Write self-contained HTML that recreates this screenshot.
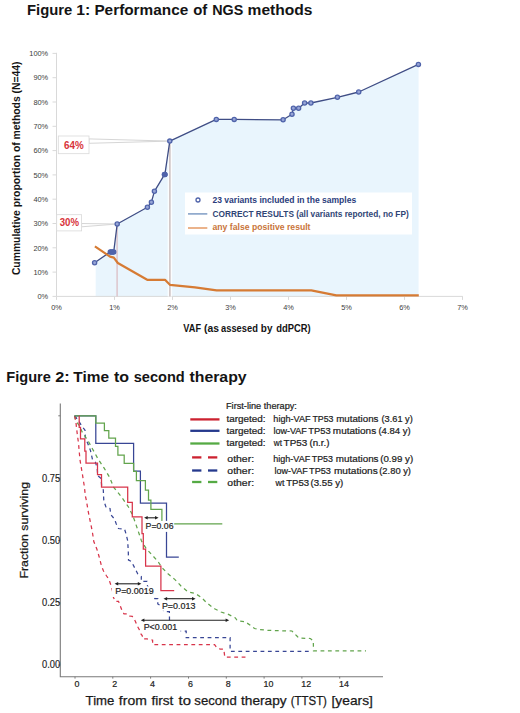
<!DOCTYPE html>
<html><head><meta charset="utf-8"><title>Figures</title>
<style>
html,body{margin:0;padding:0;background:#fff;}
body{width:520px;height:713px;overflow:hidden;font-family:"Liberation Sans", sans-serif;}
svg{display:block;}
svg text{font-family:"Liberation Sans", sans-serif;}
</style></head>
<body>
<svg width="520" height="713" viewBox="0 0 520 713">
<rect width="520" height="713" fill="#fff"/>
<text x="27.04" y="15" font-size="14.9" fill="#141414" font-weight="bold" textLength="45.29" lengthAdjust="spacingAndGlyphs">Figure</text>
<text x="76.35" y="15" font-size="14.9" fill="#141414" font-weight="bold" textLength="14.01" lengthAdjust="spacingAndGlyphs">1:</text>
<text x="94.4" y="15" font-size="14.9" fill="#141414" font-weight="bold" textLength="93.82" lengthAdjust="spacingAndGlyphs">Performance</text>
<text x="193.2" y="15" font-size="14.9" fill="#141414" font-weight="bold" textLength="14.08" lengthAdjust="spacingAndGlyphs">of</text>
<text x="212.17" y="15" font-size="14.9" fill="#141414" font-weight="bold" textLength="31.06" lengthAdjust="spacingAndGlyphs">NGS</text>
<text x="247.59" y="15" font-size="14.9" fill="#141414" font-weight="bold" textLength="64.97" lengthAdjust="spacingAndGlyphs">methods</text>
<polygon points="95.7,296.4 95.7,262.0 110.3,251.9 112.0,251.9 113.7,251.9 117.2,224.0 147.4,207.3 151.4,202.2 154.4,191.3 164.5,174.6 164.9,174.4 169.8,141.1 216.3,119.4 234.2,119.4 283.1,119.8 292.0,114.2 293.4,108.2 298.6,108.3 304.6,103.0 310.9,103.0 337.4,97.3 358.7,92.0 418.4,64.4 418.6,64.4 418.6,296.4" fill="#e9f5fd"/>
<line x1="56.5" y1="52.8" x2="56.5" y2="296.4" stroke="#d9d9d9" stroke-width="1"/>
<line x1="56.5" y1="296.4" x2="462.8" y2="296.4" stroke="#d9d9d9" stroke-width="1"/>
<line x1="52.5" y1="296.4" x2="56.5" y2="296.4" stroke="#d9d9d9" stroke-width="1"/>
<text x="48.2" y="299.1" font-size="7.4" fill="#3c3c3c" text-anchor="end">0%</text>
<line x1="52.5" y1="272.1" x2="56.5" y2="272.1" stroke="#d9d9d9" stroke-width="1"/>
<text x="48.2" y="274.8" font-size="7.4" fill="#3c3c3c" text-anchor="end">10%</text>
<line x1="52.5" y1="247.8" x2="56.5" y2="247.8" stroke="#d9d9d9" stroke-width="1"/>
<text x="48.2" y="250.5" font-size="7.4" fill="#3c3c3c" text-anchor="end">20%</text>
<line x1="52.5" y1="223.5" x2="56.5" y2="223.5" stroke="#d9d9d9" stroke-width="1"/>
<text x="48.2" y="226.2" font-size="7.4" fill="#3c3c3c" text-anchor="end">30%</text>
<line x1="52.5" y1="199.2" x2="56.5" y2="199.2" stroke="#d9d9d9" stroke-width="1"/>
<text x="48.2" y="201.9" font-size="7.4" fill="#3c3c3c" text-anchor="end">40%</text>
<line x1="52.5" y1="174.9" x2="56.5" y2="174.9" stroke="#d9d9d9" stroke-width="1"/>
<text x="48.2" y="177.6" font-size="7.4" fill="#3c3c3c" text-anchor="end">50%</text>
<line x1="52.5" y1="150.6" x2="56.5" y2="150.6" stroke="#d9d9d9" stroke-width="1"/>
<text x="48.2" y="153.3" font-size="7.4" fill="#3c3c3c" text-anchor="end">60%</text>
<line x1="52.5" y1="126.3" x2="56.5" y2="126.3" stroke="#d9d9d9" stroke-width="1"/>
<text x="48.2" y="129.0" font-size="7.4" fill="#3c3c3c" text-anchor="end">70%</text>
<line x1="52.5" y1="102.0" x2="56.5" y2="102.0" stroke="#d9d9d9" stroke-width="1"/>
<text x="48.2" y="104.7" font-size="7.4" fill="#3c3c3c" text-anchor="end">80%</text>
<line x1="52.5" y1="77.7" x2="56.5" y2="77.7" stroke="#d9d9d9" stroke-width="1"/>
<text x="48.2" y="80.4" font-size="7.4" fill="#3c3c3c" text-anchor="end">90%</text>
<line x1="52.5" y1="53.4" x2="56.5" y2="53.4" stroke="#d9d9d9" stroke-width="1"/>
<text x="48.2" y="56.1" font-size="7.4" fill="#3c3c3c" text-anchor="end">100%</text>
<line x1="56.5" y1="296.4" x2="56.5" y2="299.9" stroke="#d9d9d9" stroke-width="1"/>
<text x="56.5" y="309.9" font-size="7.4" fill="#3c3c3c" text-anchor="middle">0%</text>
<line x1="114.5" y1="296.4" x2="114.5" y2="299.9" stroke="#d9d9d9" stroke-width="1"/>
<text x="114.5" y="309.9" font-size="7.4" fill="#3c3c3c" text-anchor="middle">1%</text>
<line x1="172.5" y1="296.4" x2="172.5" y2="299.9" stroke="#d9d9d9" stroke-width="1"/>
<text x="172.5" y="309.9" font-size="7.4" fill="#3c3c3c" text-anchor="middle">2%</text>
<line x1="230.5" y1="296.4" x2="230.5" y2="299.9" stroke="#d9d9d9" stroke-width="1"/>
<text x="230.5" y="309.9" font-size="7.4" fill="#3c3c3c" text-anchor="middle">3%</text>
<line x1="288.5" y1="296.4" x2="288.5" y2="299.9" stroke="#d9d9d9" stroke-width="1"/>
<text x="288.5" y="309.9" font-size="7.4" fill="#3c3c3c" text-anchor="middle">4%</text>
<line x1="346.5" y1="296.4" x2="346.5" y2="299.9" stroke="#d9d9d9" stroke-width="1"/>
<text x="346.5" y="309.9" font-size="7.4" fill="#3c3c3c" text-anchor="middle">5%</text>
<line x1="404.5" y1="296.4" x2="404.5" y2="299.9" stroke="#d9d9d9" stroke-width="1"/>
<text x="404.5" y="309.9" font-size="7.4" fill="#3c3c3c" text-anchor="middle">6%</text>
<line x1="462.5" y1="296.4" x2="462.5" y2="299.9" stroke="#d9d9d9" stroke-width="1"/>
<text x="462.5" y="309.9" font-size="7.4" fill="#3c3c3c" text-anchor="middle">7%</text>
<line x1="117.1" y1="224" x2="117.1" y2="296.4" stroke="#dcc2c8" stroke-width="1.4"/>
<line x1="169.9" y1="141" x2="169.9" y2="296.4" stroke="#fbfdff" stroke-width="4.4"/>
<line x1="169.9" y1="141" x2="169.9" y2="296.4" stroke="#c8bbbb" stroke-width="1.4"/>
<polygon points="81.6,223.5 117.2,224.0 81.6,226.8" fill="none" stroke="#d6d6d6" stroke-width="1"/>
<polygon points="89,138.9 169.7,141.1 89,143.3" fill="none" stroke="#d6d6d6" stroke-width="1"/>
<polyline points="94.6,262.7 110.3,251.9 112.0,251.9 113.7,251.9 117.2,224.0 147.4,207.3 151.4,202.2 154.4,191.3 164.5,174.6 164.9,174.4 169.8,141.1 216.3,119.4 234.2,119.4 283.1,119.8 292.0,114.2 293.4,108.2 298.6,108.3 304.6,103.0 310.9,103.0 337.4,97.3 358.7,92.0 418.4,64.4" fill="none" stroke="#3f4d85" stroke-width="1.3" stroke-linejoin="round"/>
<polyline points="94.9,246.3 107.1,254.6 110.0,256.6 113.8,257.6 117.8,263.0 147.2,279.8 165.0,279.8 169.9,284.8 195.0,287.3 216.6,290.4 311.3,290.4 336.3,295.3 418.8,295.3" fill="none" stroke="#d67b34" stroke-width="2.2" stroke-linejoin="round"/>
<circle cx="94.6" cy="262.7" r="2.1" fill="#97a5d6" stroke="#4f63aa" stroke-width="1.3"/>
<circle cx="110.3" cy="251.9" r="2.1" fill="#97a5d6" stroke="#4f63aa" stroke-width="1.3"/>
<circle cx="112.0" cy="251.9" r="2.1" fill="#97a5d6" stroke="#4f63aa" stroke-width="1.3"/>
<circle cx="113.7" cy="251.9" r="2.1" fill="#97a5d6" stroke="#4f63aa" stroke-width="1.3"/>
<circle cx="117.2" cy="224.0" r="2.1" fill="#97a5d6" stroke="#4f63aa" stroke-width="1.3"/>
<circle cx="147.4" cy="207.3" r="2.1" fill="#97a5d6" stroke="#4f63aa" stroke-width="1.3"/>
<circle cx="151.4" cy="202.2" r="2.1" fill="#97a5d6" stroke="#4f63aa" stroke-width="1.3"/>
<circle cx="154.4" cy="191.3" r="2.1" fill="#97a5d6" stroke="#4f63aa" stroke-width="1.3"/>
<circle cx="164.5" cy="174.6" r="2.1" fill="#97a5d6" stroke="#4f63aa" stroke-width="1.3"/>
<circle cx="164.9" cy="174.4" r="2.1" fill="#97a5d6" stroke="#4f63aa" stroke-width="1.3"/>
<circle cx="169.8" cy="141.1" r="2.1" fill="#97a5d6" stroke="#4f63aa" stroke-width="1.3"/>
<circle cx="216.3" cy="119.4" r="2.1" fill="#97a5d6" stroke="#4f63aa" stroke-width="1.3"/>
<circle cx="234.2" cy="119.4" r="2.1" fill="#97a5d6" stroke="#4f63aa" stroke-width="1.3"/>
<circle cx="283.1" cy="119.8" r="2.1" fill="#97a5d6" stroke="#4f63aa" stroke-width="1.3"/>
<circle cx="292.0" cy="114.2" r="2.1" fill="#97a5d6" stroke="#4f63aa" stroke-width="1.3"/>
<circle cx="293.4" cy="108.2" r="2.1" fill="#97a5d6" stroke="#4f63aa" stroke-width="1.3"/>
<circle cx="298.6" cy="108.3" r="2.1" fill="#97a5d6" stroke="#4f63aa" stroke-width="1.3"/>
<circle cx="304.6" cy="103.0" r="2.1" fill="#97a5d6" stroke="#4f63aa" stroke-width="1.3"/>
<circle cx="310.9" cy="103.0" r="2.1" fill="#97a5d6" stroke="#4f63aa" stroke-width="1.3"/>
<circle cx="337.4" cy="97.3" r="2.1" fill="#97a5d6" stroke="#4f63aa" stroke-width="1.3"/>
<circle cx="358.7" cy="92.0" r="2.1" fill="#97a5d6" stroke="#4f63aa" stroke-width="1.3"/>
<circle cx="418.4" cy="64.4" r="2.1" fill="#97a5d6" stroke="#4f63aa" stroke-width="1.3"/>
<rect x="108.1" y="249.5" width="7.8" height="4.9" rx="2.4" fill="#4f63aa"/>
<ellipse cx="164.7" cy="174.5" rx="2.9" ry="2.6" fill="#4f63aa"/>
<rect x="58.3" y="136" width="30.7" height="17.7" fill="#fff" stroke="#d9d9d9" stroke-width="0.8"/>
<text x="64.0" y="148.9" font-size="10.4" fill="#d8333a" font-weight="bold" textLength="19.7" lengthAdjust="spacingAndGlyphs">64%</text>
<rect x="56.7" y="214.7" width="24.9" height="16.2" fill="#fff" stroke="#d9d9d9" stroke-width="0.8"/>
<text x="59.7" y="226.3" font-size="10.2" fill="#d8333a" font-weight="bold" textLength="19.3" lengthAdjust="spacingAndGlyphs">30%</text>
<rect x="185" y="192.5" width="227" height="42" fill="#ffffff"/>
<circle cx="198" cy="200" r="2.0" fill="#fff" stroke="#4f63aa" stroke-width="1.3"/>
<line x1="188" y1="213.9" x2="207.3" y2="213.9" stroke="#7f9cc4" stroke-width="1.5"/>
<line x1="188" y1="228" x2="207.3" y2="228" stroke="#e08a4c" stroke-width="1.3"/>
<text x="212.5" y="202.8" font-size="8.6" fill="#2b3d7c" font-weight="bold" textLength="143.7" lengthAdjust="spacingAndGlyphs">23 variants included in the samples</text>
<text x="212.5" y="216.7" font-size="8.6" fill="#2f4575" font-weight="bold" textLength="196.2" lengthAdjust="spacingAndGlyphs">CORRECT RESULTS (all variants reported, no FP)</text>
<text x="212.5" y="230.3" font-size="8.6" fill="#c9753a" font-weight="bold" textLength="98" lengthAdjust="spacingAndGlyphs">any false positive result</text>
<text x="183.35" y="332.2" font-size="10.3" fill="#141414" font-weight="bold" textLength="17.67" lengthAdjust="spacingAndGlyphs">VAF</text>
<text x="203.98" y="332.2" font-size="10.3" fill="#141414" font-weight="bold" textLength="14.93" lengthAdjust="spacingAndGlyphs">(as</text>
<text x="221.02" y="332.2" font-size="10.3" fill="#141414" font-weight="bold" textLength="36.81" lengthAdjust="spacingAndGlyphs">assesed</text>
<text x="260.85" y="332.2" font-size="10.3" fill="#141414" font-weight="bold" textLength="11.62" lengthAdjust="spacingAndGlyphs">by</text>
<text x="276.32" y="332.2" font-size="10.3" fill="#141414" font-weight="bold" textLength="34.41" lengthAdjust="spacingAndGlyphs">ddPCR)</text>
<text transform="translate(20.2,275.1) rotate(-90)" font-size="10.8" font-weight="bold" fill="#141414" textLength="213.6" lengthAdjust="spacingAndGlyphs">Cummulative proportion of methods (N=44)</text>
<text x="6.35" y="381.75" font-size="14.9" fill="#141414" font-weight="bold" textLength="44.57" lengthAdjust="spacingAndGlyphs">Figure</text>
<text x="55.23" y="381.75" font-size="14.9" fill="#141414" font-weight="bold" textLength="14.49" lengthAdjust="spacingAndGlyphs">2:</text>
<text x="73.35" y="381.75" font-size="14.9" fill="#141414" font-weight="bold" textLength="35.71" lengthAdjust="spacingAndGlyphs">Time</text>
<text x="114.04" y="381.75" font-size="14.9" fill="#141414" font-weight="bold" textLength="15.08" lengthAdjust="spacingAndGlyphs">to</text>
<text x="133.69" y="381.75" font-size="14.9" fill="#141414" font-weight="bold" textLength="51.07" lengthAdjust="spacingAndGlyphs">second</text>
<text x="189.44" y="381.75" font-size="14.9" fill="#141414" font-weight="bold" textLength="57.18" lengthAdjust="spacingAndGlyphs">therapy</text>
<polyline points="60.3,403.5 60.3,676.7 383,676.7" fill="none" stroke="#7a7a7a" stroke-width="1.1"/>
<line x1="58.3" y1="665.0" x2="60.3" y2="665.0" stroke="#7a7a7a" stroke-width="1"/>
<text x="42.0" y="668.4" font-size="10.2" fill="#222" textLength="18.2" lengthAdjust="spacingAndGlyphs" stroke="#222" stroke-width="0.15">0.00</text>
<line x1="58.3" y1="602.7" x2="60.3" y2="602.7" stroke="#7a7a7a" stroke-width="1"/>
<text x="42.0" y="606.1" font-size="10.2" fill="#222" textLength="18.2" lengthAdjust="spacingAndGlyphs" stroke="#222" stroke-width="0.15">0.25</text>
<line x1="58.3" y1="540.4" x2="60.3" y2="540.4" stroke="#7a7a7a" stroke-width="1"/>
<text x="42.0" y="543.8" font-size="10.2" fill="#222" textLength="18.2" lengthAdjust="spacingAndGlyphs" stroke="#222" stroke-width="0.15">0.50</text>
<line x1="58.3" y1="478.1" x2="60.3" y2="478.1" stroke="#7a7a7a" stroke-width="1"/>
<text x="42.0" y="481.5" font-size="10.2" fill="#222" textLength="18.2" lengthAdjust="spacingAndGlyphs" stroke="#222" stroke-width="0.15">0.75</text>
<line x1="58.3" y1="415.8" x2="60.3" y2="415.8" stroke="#7a7a7a" stroke-width="1"/>
<line x1="75.0" y1="676.7" x2="75.0" y2="678.6" stroke="#7a7a7a" stroke-width="1"/>
<text x="74.4" y="687.0" font-size="8.9" fill="#222" stroke="#222" stroke-width="0.2">0</text>
<line x1="112.8" y1="676.7" x2="112.8" y2="678.6" stroke="#7a7a7a" stroke-width="1"/>
<text x="112.2" y="687.0" font-size="8.9" fill="#222" stroke="#222" stroke-width="0.2">2</text>
<line x1="150.6" y1="676.7" x2="150.6" y2="678.6" stroke="#7a7a7a" stroke-width="1"/>
<text x="150.0" y="687.0" font-size="8.9" fill="#222" stroke="#222" stroke-width="0.2">4</text>
<line x1="188.5" y1="676.7" x2="188.5" y2="678.6" stroke="#7a7a7a" stroke-width="1"/>
<text x="187.9" y="687.0" font-size="8.9" fill="#222" stroke="#222" stroke-width="0.2">6</text>
<line x1="226.3" y1="676.7" x2="226.3" y2="678.6" stroke="#7a7a7a" stroke-width="1"/>
<text x="225.7" y="687.0" font-size="8.9" fill="#222" stroke="#222" stroke-width="0.2">8</text>
<line x1="264.1" y1="676.7" x2="264.1" y2="678.6" stroke="#7a7a7a" stroke-width="1"/>
<text x="263.5" y="687.0" font-size="8.9" fill="#222" stroke="#222" stroke-width="0.2">10</text>
<line x1="301.9" y1="676.7" x2="301.9" y2="678.6" stroke="#7a7a7a" stroke-width="1"/>
<text x="301.3" y="687.0" font-size="8.9" fill="#222" stroke="#222" stroke-width="0.2">12</text>
<line x1="339.7" y1="676.7" x2="339.7" y2="678.6" stroke="#7a7a7a" stroke-width="1"/>
<text x="339.1" y="687.0" font-size="8.9" fill="#222" stroke="#222" stroke-width="0.2">14</text>
<text x="85.64" y="704.7" font-size="12.6" fill="#1a1a1a" textLength="28.76" lengthAdjust="spacingAndGlyphs" stroke="#1a1a1a" stroke-width="0.25">Time</text>
<text x="118.89" y="704.7" font-size="12.6" fill="#1a1a1a" textLength="27.92" lengthAdjust="spacingAndGlyphs" stroke="#1a1a1a" stroke-width="0.25">from</text>
<text x="151.4" y="704.7" font-size="12.6" fill="#1a1a1a" textLength="21.98" lengthAdjust="spacingAndGlyphs" stroke="#1a1a1a" stroke-width="0.25">first</text>
<text x="178.58" y="704.7" font-size="12.6" fill="#1a1a1a" textLength="12.4" lengthAdjust="spacingAndGlyphs" stroke="#1a1a1a" stroke-width="0.25">to</text>
<text x="194.31" y="704.7" font-size="12.6" fill="#1a1a1a" textLength="42.45" lengthAdjust="spacingAndGlyphs" stroke="#1a1a1a" stroke-width="0.25">second</text>
<text x="240.99" y="704.7" font-size="12.6" fill="#1a1a1a" textLength="45.61" lengthAdjust="spacingAndGlyphs" stroke="#1a1a1a" stroke-width="0.25">therapy</text>
<text x="290.71" y="704.7" font-size="12.6" fill="#1a1a1a" textLength="36.23" lengthAdjust="spacingAndGlyphs" stroke="#1a1a1a" stroke-width="0.25">(TTST)</text>
<text x="331.54" y="704.7" font-size="12.6" fill="#1a1a1a" textLength="41.34" lengthAdjust="spacingAndGlyphs" stroke="#1a1a1a" stroke-width="0.25">[years]</text>
<text transform="translate(28.0,578.6) rotate(-90)" font-size="11.6" fill="#1a1a1a" stroke="#1a1a1a" stroke-width="0.25" textLength="96.6" lengthAdjust="spacingAndGlyphs">Fraction surviving</text>
<polyline points="74.6,415.8 78.0,420.0 81.5,425.6 85.0,430.2 85.3,437.7 87.6,443.0 90.5,450.6 92.4,459.2 95.3,462.0 97.2,467.9 97.7,475.6 101.1,478.5 101.6,485.2 103.3,490.0 103.8,500.8 106.2,507.7 110.0,508.5 110.8,514.6 114.6,519.2 116.2,523.8 118.5,528.5 124.6,529.2 126.2,534.6 127.7,540.8 128.3,552.0 128.5,560.0 131.5,561.5 134.6,567.7 137.7,573.8 141.3,576.5 141.3,581.4 147.0,581.4 147.5,586.0 152.0,592.0 154.8,598.5 157.8,598.5 157.8,604.0 161.0,606.0 164.0,611.7 169.4,611.7 169.6,631.0 186.2,631.0 186.2,637.7 230.1,637.7 230.1,651.4 312.3,651.4" fill="none" stroke="#384695" stroke-width="1.25" stroke-dasharray="3.8 3.6"/>
<polyline points="74.6,415.8 75.8,421.0 79.8,426.2 82.1,431.9 87.9,440.6 92.4,448.7 98.2,459.2 104.0,467.9 109.7,477.5 113.6,487.1 120.8,496.0 128.5,507.0 133.0,516.0 137.5,529.0 141.5,541.0 146.1,548.5 151.9,554.8 157.7,561.1 162.3,568.0 168.0,573.8 175.0,579.6 181.0,586.0 188.0,591.8 195.4,593.5 201.2,597.3 206.9,603.0 214.6,608.8 221.0,612.0 227.7,614.0 235.4,617.9 237.3,620.8 245.0,621.7 250.8,625.6 254.6,628.5 258.5,629.4 268.0,630.4 292.0,631.0 294.0,633.3 296.9,636.0 298.8,638.0 310.4,638.5 313.3,641.0 313.5,650.8 366.0,650.8" fill="none" stroke="#62a44c" stroke-width="1.25" stroke-dasharray="3.8 3.6"/>
<polyline points="74.6,415.8 75.8,421.0 76.6,428.5 77.5,436.0 78.5,443.0 79.9,459.2 82.3,473.7 84.3,486.2 85.4,496.0 86.2,499.6 88.5,513.0 92.3,531.5 93.8,541.5 96.9,549.2 99.2,557.0 101.5,566.0 103.5,571.0 106.6,576.0 109.0,579.5 111.0,585.5 112.5,591.0 113.5,597.5 115.3,601.3 118.5,601.3 120.5,606.5 122.5,612.0 124.0,613.8 127.5,613.8 129.3,616.0 132.3,616.4 134.0,618.6 135.3,621.2 137.5,626.4 139.2,629.4 140.5,633.3 142.2,635.5 142.7,638.9 147.0,638.9 150.5,639.4 152.6,640.2 152.6,644.6 214.6,644.6 216.5,647.3 220.4,649.2 223.8,649.2 224.8,657.2 246.0,657.2" fill="none" stroke="#d8344a" stroke-width="1.25" stroke-dasharray="3.8 3.6"/>
<polyline points="74.5,415.8 95.8,415.8 95.8,443.3 133.6,443.3 133.6,471.2 140.4,471.2 140.4,503.0 166.5,503.0 166.5,557.0 178.8,557.0" fill="none" stroke="#384695" stroke-width="1.25" />
<polyline points="74.5,415.8 95.8,415.8 95.8,423.2 104.4,423.2 104.4,430.5 108.8,430.5 108.8,438.2 115.5,438.2 115.5,446.3 117.9,446.3 117.9,455.0 124.2,455.0 124.2,463.3 133.6,463.3 133.6,471.3 136.4,471.3 136.4,480.6 145.4,480.6 145.4,490.0 148.5,490.0 148.5,500.0 150.9,500.0 150.9,509.3 161.9,509.3 161.9,523.8 222.3,523.8" fill="none" stroke="#62a44c" stroke-width="1.25" />
<polyline points="79.2,415.8 79.2,427.3 80.5,427.3 80.5,438.9 84.8,438.9 84.8,451.0 86.0,451.0 86.0,463.2 97.5,463.2 97.5,474.6 101.5,474.6 101.5,487.2 127.7,487.2 127.7,502.3 132.3,502.3 132.3,516.8 142.0,516.8 142.0,533.5 143.3,533.5 143.3,549.0 145.6,549.0 145.6,566.0 160.9,566.0 160.9,590.6 174.2,590.6" fill="none" stroke="#d8344a" stroke-width="1.25" />
<rect x="144.8" y="520.9" width="29.4" height="11" fill="#fff"/>
<text x="145.6" y="529.0" font-size="9.0" fill="#222" textLength="27.9" lengthAdjust="spacingAndGlyphs" stroke="#222" stroke-width="0.2">P=0.06</text>
<line x1="146.1" y1="517.8" x2="156.6" y2="517.8" stroke="#222" stroke-width="1.1"/><polygon points="144.1,517.8 147.7,516.0999999999999 147.7,519.5" fill="#222"/><polygon points="158.6,517.8 155.0,516.0999999999999 155.0,519.5" fill="#222"/>
<rect x="111.9" y="586.4" width="41.9" height="10.6" fill="#fff"/>
<text x="115.2" y="594.2" font-size="9.0" fill="#222" textLength="38.5" lengthAdjust="spacingAndGlyphs" stroke="#222" stroke-width="0.2">P=0.0019</text>
<line x1="116.6" y1="583.8" x2="139.4" y2="583.8" stroke="#222" stroke-width="1.1"/><polygon points="114.6,583.8 118.19999999999999,582.0999999999999 118.19999999999999,585.5" fill="#222"/><polygon points="141.4,583.8 137.8,582.0999999999999 137.8,585.5" fill="#222"/>
<rect x="160" y="601.2" width="36" height="9.6" fill="#fff"/>
<text x="161.9" y="609.2" font-size="9.0" fill="#222" textLength="33.5" lengthAdjust="spacingAndGlyphs" stroke="#222" stroke-width="0.2">P=0.013</text>
<line x1="165.5" y1="598.7" x2="193.6" y2="598.7" stroke="#222" stroke-width="1.1"/><polygon points="163.5,598.7 167.1,597.0 167.1,600.4000000000001" fill="#222"/><polygon points="195.6,598.7 192.0,597.0 192.0,600.4000000000001" fill="#222"/>
<rect x="143" y="622" width="37.6" height="10.4" fill="#fff"/>
<text x="143.7" y="630.4" font-size="9.0" fill="#222" textLength="33.4" lengthAdjust="spacingAndGlyphs" stroke="#222" stroke-width="0.2">P&lt;0.001</text>
<line x1="142.8" y1="620.3" x2="227.2" y2="620.3" stroke="#222" stroke-width="1.1"/><polygon points="140.8,620.3 144.4,618.5999999999999 144.4,622.0" fill="#222"/><polygon points="229.2,620.3 225.6,618.5999999999999 225.6,622.0" fill="#222"/>
<text x="226" y="409" font-size="8.6" fill="#222" textLength="70.9" lengthAdjust="spacingAndGlyphs" stroke="#222" stroke-width="0.2">First-line therapy:</text>
<line x1="190.3" y1="419.4" x2="219.5" y2="419.4" stroke="#cc2230" stroke-width="2.3"/>
<text x="226.45" y="422.2" font-size="9.2" fill="#222" textLength="39.17" lengthAdjust="spacingAndGlyphs" stroke="#222" stroke-width="0.22">targeted:</text>
<text x="273.36" y="422.2" font-size="9.2" fill="#222" textLength="37.19" lengthAdjust="spacingAndGlyphs" stroke="#222" stroke-width="0.22">high-VAF</text>
<text x="312.42" y="422.2" font-size="9.2" fill="#222" textLength="21.03" lengthAdjust="spacingAndGlyphs" stroke="#222" stroke-width="0.22">TP53</text>
<text x="336.17" y="422.2" font-size="9.2" fill="#222" textLength="42.28" lengthAdjust="spacingAndGlyphs" stroke="#222" stroke-width="0.22">mutations</text>
<text x="381.55" y="422.2" font-size="9.2" fill="#222" textLength="31.25" lengthAdjust="spacingAndGlyphs" stroke="#222" stroke-width="0.22">(3.61 y)</text>
<line x1="190.3" y1="430.8" x2="219.5" y2="430.8" stroke="#25398d" stroke-width="2.3"/>
<text x="226.45" y="433.8" font-size="9.2" fill="#222" textLength="39.17" lengthAdjust="spacingAndGlyphs" stroke="#222" stroke-width="0.22">targeted:</text>
<text x="273.41" y="433.8" font-size="9.2" fill="#222" textLength="33.44" lengthAdjust="spacingAndGlyphs" stroke="#222" stroke-width="0.22">low-VAF</text>
<text x="308.31" y="433.8" font-size="9.2" fill="#222" textLength="22.36" lengthAdjust="spacingAndGlyphs" stroke="#222" stroke-width="0.22">TP53</text>
<text x="332.85" y="433.8" font-size="9.2" fill="#222" textLength="43.3" lengthAdjust="spacingAndGlyphs" stroke="#222" stroke-width="0.22">mutations</text>
<text x="378.43" y="433.8" font-size="9.2" fill="#222" textLength="32.29" lengthAdjust="spacingAndGlyphs" stroke="#222" stroke-width="0.22">(4.84 y)</text>
<line x1="190.3" y1="443.5" x2="219.5" y2="443.5" stroke="#55aa44" stroke-width="2.3"/>
<text x="226.45" y="445.9" font-size="9.2" fill="#222" textLength="39.17" lengthAdjust="spacingAndGlyphs" stroke="#222" stroke-width="0.22">targeted:</text>
<text x="273.8" y="445.9" font-size="9.2" fill="#222" textLength="8.18" lengthAdjust="spacingAndGlyphs" stroke="#222" stroke-width="0.22">wt</text>
<text x="283.6" y="445.9" font-size="9.2" fill="#222" textLength="23.7" lengthAdjust="spacingAndGlyphs" stroke="#222" stroke-width="0.22">TP53</text>
<text x="309.41" y="445.9" font-size="9.2" fill="#222" textLength="20.08" lengthAdjust="spacingAndGlyphs" stroke="#222" stroke-width="0.22">(n.r.)</text>
<line x1="192.1" y1="457.4" x2="201.4" y2="457.4" stroke="#cc2230" stroke-width="2.3"/>
<line x1="208" y1="457.4" x2="217.3" y2="457.4" stroke="#cc2230" stroke-width="2.3"/>
<text x="227.38" y="461.8" font-size="9.2" fill="#222" textLength="26.68" lengthAdjust="spacingAndGlyphs" stroke="#222" stroke-width="0.22">other:</text>
<text x="273.37" y="461.8" font-size="9.2" fill="#222" textLength="36.78" lengthAdjust="spacingAndGlyphs" stroke="#222" stroke-width="0.22">high-VAF</text>
<text x="311.72" y="461.8" font-size="9.2" fill="#222" textLength="21.24" lengthAdjust="spacingAndGlyphs" stroke="#222" stroke-width="0.22">TP53</text>
<text x="335.86" y="461.8" font-size="9.2" fill="#222" textLength="42.69" lengthAdjust="spacingAndGlyphs" stroke="#222" stroke-width="0.22">mutations</text>
<text x="380.22" y="461.8" font-size="9.2" fill="#222" textLength="32.92" lengthAdjust="spacingAndGlyphs" stroke="#222" stroke-width="0.22">(0.99 y)</text>
<line x1="192.1" y1="470.5" x2="201.4" y2="470.5" stroke="#25398d" stroke-width="2.3"/>
<line x1="208" y1="470.5" x2="217.3" y2="470.5" stroke="#25398d" stroke-width="2.3"/>
<text x="227.38" y="473.6" font-size="9.2" fill="#222" textLength="26.68" lengthAdjust="spacingAndGlyphs" stroke="#222" stroke-width="0.22">other:</text>
<text x="274.52" y="473.6" font-size="9.2" fill="#222" textLength="33.24" lengthAdjust="spacingAndGlyphs" stroke="#222" stroke-width="0.22">low-VAF</text>
<text x="309.12" y="473.6" font-size="9.2" fill="#222" textLength="21.85" lengthAdjust="spacingAndGlyphs" stroke="#222" stroke-width="0.22">TP53</text>
<text x="333.94" y="473.6" font-size="9.2" fill="#222" textLength="43.82" lengthAdjust="spacingAndGlyphs" stroke="#222" stroke-width="0.22">mutations</text>
<text x="379.24" y="473.6" font-size="9.2" fill="#222" textLength="31.77" lengthAdjust="spacingAndGlyphs" stroke="#222" stroke-width="0.22">(2.80 y)</text>
<line x1="192.1" y1="482.0" x2="201.4" y2="482.0" stroke="#55aa44" stroke-width="2.3"/>
<line x1="208" y1="482.0" x2="217.3" y2="482.0" stroke="#55aa44" stroke-width="2.3"/>
<text x="227.38" y="485.5" font-size="9.2" fill="#222" textLength="26.68" lengthAdjust="spacingAndGlyphs" stroke="#222" stroke-width="0.22">other:</text>
<text x="275.6" y="485.5" font-size="9.2" fill="#222" textLength="8.79" lengthAdjust="spacingAndGlyphs" stroke="#222" stroke-width="0.22">wt</text>
<text x="286.21" y="485.5" font-size="9.2" fill="#222" textLength="22.98" lengthAdjust="spacingAndGlyphs" stroke="#222" stroke-width="0.22">TP53</text>
<text x="310.42" y="485.5" font-size="9.2" fill="#222" textLength="32.92" lengthAdjust="spacingAndGlyphs" stroke="#222" stroke-width="0.22">(3.55 y)</text>
</svg>
</body></html>
